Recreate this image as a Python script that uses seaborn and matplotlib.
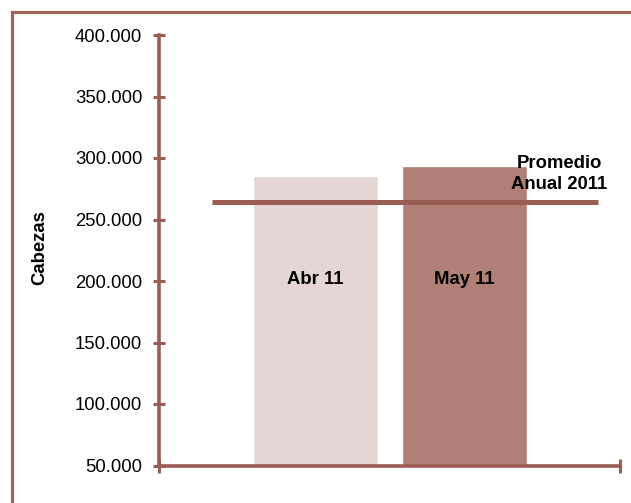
import matplotlib
matplotlib.use("Agg")
import matplotlib.pyplot as plt
import seaborn as sns
import pandas as pd
from matplotlib.lines import Line2D

categories = ["Abr 11", "May 11"]
values = [285400, 293500]
promedio_anual = 264500
promedio_label = "Promedio\nAnual 2011"
y_ticks = [50000, 100000, 150000, 200000, 250000, 300000, 350000, 400000]
y_tick_labels = ["50.000", "100.000", "150.000", "200.000", "250.000", "300.000", "350.000", "400.000"]

bar_colors = ["#E6D5D5", "#B07F75"]
axis_color = "#9A5C53"
FS = 13.3

sns.set_theme(style="white")
plt.rcParams["font.family"] = ["Liberation Sans", "DejaVu Sans"]

fig = plt.figure(figsize=(6.31, 5.03), dpi=100)
W, H = 631, 503
ax = fig.add_axes([159 / W, 1 - 465.5 / H, (620 - 159) / W, (465.5 - 35) / H])

df = pd.DataFrame({"cat": categories, "val": values})
sns.barplot(data=df, x="cat", y="val", hue="cat", palette=bar_colors,
            width=0.839, legend=False, ax=ax, saturation=1)

ax.set_ylim(50000, 400000)
ax.set_xlim(-1.050, 2.044)

# average line
ax.hlines(promedio_anual, -0.695, 1.896, color=axis_color, linewidth=3.6, zorder=5)

# labels in bars
for i, c in enumerate(categories):
    ax.text(i, 50000 + (465.5 - 279.5) / 430.5 * 350000, c, ha="center", va="center",
            fontsize=FS, fontweight="bold", color="black", zorder=6)

ax.text(1.638, 287000, promedio_label, ha="center", va="center", fontsize=FS,
        fontweight="bold", color="black", linespacing=1.25, zorder=6)

ax.set_yticks(y_ticks)
ax.set_yticklabels(y_tick_labels, fontsize=FS, color="black")
ax.set_xticks([-1.050, 2.044])
ax.set_xticklabels(["", ""])
ax.tick_params(axis="y", direction="inout", length=8, width=2.2, color=axis_color, pad=8, left=True)
ax.tick_params(axis="x", direction="inout", length=10, width=2.2, color=axis_color, bottom=True)
ax.set_xlabel("")
ax.set_ylabel("")

for s in ["top", "right"]:
    ax.spines[s].set_visible(False)
for s in ["left", "bottom"]:
    ax.spines[s].set_color(axis_color)
    ax.spines[s].set_linewidth(2.6)

fig.text(40 / W, 1 - 248 / H, "Cabezas", rotation=90, ha="center", va="center",
         fontsize=FS, fontweight="bold", color="black")

# outer frame (top and left edges visible)
x0, y0 = 11.8 / W, 1 - 11.7 / H
fig.add_artist(Line2D([x0, x0, 1.05], [-0.05, y0, y0], transform=fig.transFigure,
                      color="#A0645B", linewidth=2.3, solid_joinstyle="miter"))

fig.savefig("out.png", dpi=100)
